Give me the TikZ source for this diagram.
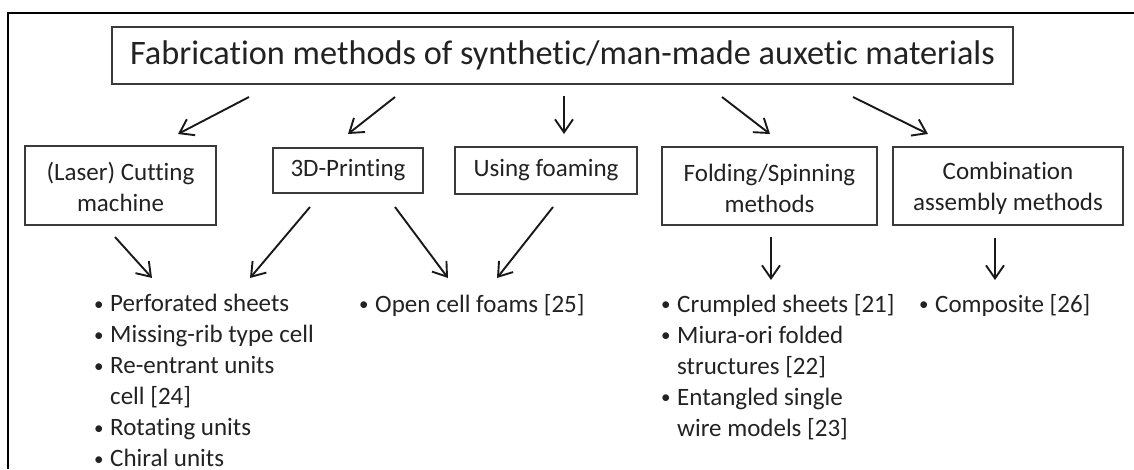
\documentclass[tikz,border=0pt]{standalone}
\usepackage{fontspec}
\setmainfont{Carlito}[RawFeature=-liga]
\usetikzlibrary{arrows.meta}
\definecolor{ink}{HTML}{222222}
\definecolor{edge}{HTML}{3A3A3A}
\newcommand\bitem{\makebox[16pt][l]{\raisebox{1.5pt}{\fontsize{19}{19}\selectfont•}}}
\newcommand\bcont{\hspace*{16pt}}
\newcommand\lowered[1]{\raisebox{-3pt}{#1}}
\tikzset{
  box/.style={draw=edge, line width=1.5pt, text=ink, align=center, inner sep=0pt,
    font=\fontsize{25}{31}\selectfont},
  titlebox/.style={box, font=\fontsize{34.3}{40}\selectfont},
  blist/.style={anchor=north west, align=left, inner sep=0pt, text=ink,
    text depth=0pt, font=\fontsize{25}{31}\selectfont},
  link/.style={draw=black!90, line width=1.9pt,
    -{Straight Barb[length=13pt,width=18pt,line width=1.9pt]}},
}
\begin{document}
\begin{tikzpicture}[x=1pt,y=-1pt]
\useasboundingbox (0,0) rectangle (1134,469);
% open outer frame
\draw[line width=2.2pt] (8,469) -- (8,13) -- (1134,13);

% boxes
\node[titlebox, minimum width=901pt, minimum height=57pt] (title) at (562.5,55.5)
  {Fabrication methods of synthetic/man-made auxetic materials};
\node[box, minimum width=191pt, minimum height=79pt] (laser) at (120.5,185.5)
  {\strut(Laser) Cutting\\machine};
\node[box, minimum width=150pt, minimum height=45pt] (print) at (348,170.5)
  {\lowered{\strut 3D-Printing}};
\node[box, minimum width=182pt, minimum height=47pt] (foam) at (546,170.5)
  {\lowered{\strut Using foaming}};
\node[box, minimum width=215pt, minimum height=78pt] (fold) at (769.5,186)
  {\strut Folding/Spinning\\methods};
\node[box, minimum width=230pt, minimum height=78pt] (comb) at (1008,186)
  {\strut Combination\\assembly methods};

% lists
\node[blist] (l1) at (94,294) {\bitem Perforated sheets\\
  \bitem Missing-rib type cell\\
  \bitem Re-entrant units\\
  \bcont cell [24]\\
  \bitem Rotating units\\
  \bitem Chiral units};
\node[blist] (l2) at (359,294) {\bitem Open cell foams [25]};
\node[blist] (l3) at (661,294) {\bitem Crumpled sheets [21]\\
  \bitem Miura-ori folded\\
  \bcont structures [22]\\
  \bitem Entangled single\\
  \bcont wire models [23]};
\node[blist] (l4) at (919,294) {\bitem Composite [26]};

% arrow end points
\coordinate (t1) at (249,97);   \coordinate (h1) at (178,134);
\coordinate (t2) at (395,97);   \coordinate (h2) at (348,134);
\coordinate (t3) at (564,96);   \coordinate (h3) at (564,134);
\coordinate (t4) at (722,97);   \coordinate (h4) at (770,134);
\coordinate (t5) at (853,97);   \coordinate (h5) at (928,134);
\coordinate (u1) at (115,237);  \coordinate (k1) at (152,278);
\coordinate (u2) at (310,207);  \coordinate (k2) at (250,278);
\coordinate (u3) at (395,207);  \coordinate (k3) at (448,278);
\coordinate (u4) at (553,207);  \coordinate (k4) at (497,278);
\coordinate (u5) at (771,237);  \coordinate (k5) at (771,280);
\coordinate (u6) at (995,238);  \coordinate (k6) at (995,280);

% title to methods
\draw[link] (t1) -- (h1);
\draw[link] (t2) -- (h2);
\draw[link] (t3) -- (h3);
\draw[link] (t4) -- (h4);
\draw[link] (t5) -- (h5);
% methods to structures
\draw[link] (u1) -- (k1);
\draw[link] (u2) -- (k2);
\draw[link] (u3) -- (k3);
\draw[link] (u4) -- (k4);
\draw[link] (u5) -- (k5);
\draw[link] (u6) -- (k6);
\end{tikzpicture}
\end{document}
